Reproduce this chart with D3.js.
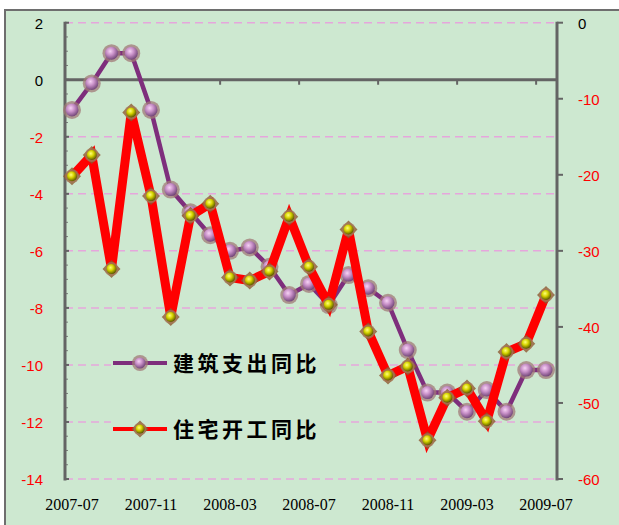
<!DOCTYPE html>
<html>
<head>
<meta charset="utf-8">
<script src="https://cdn.jsdelivr.net/npm/d3@7"></script>
<style>
  html, body { margin: 0; padding: 0; background: #fff; }
  svg { display: block; }
</style>
</head>
<body>
<div id="chart"></div>
<script>
// categories (monthly)
var months = ['2007-07','2007-08','2007-09','2007-10','2007-11','2007-12',
              '2008-01','2008-02','2008-03','2008-04','2008-05','2008-06',
              '2008-07','2008-08','2008-09','2008-10','2008-11','2008-12',
              '2009-01','2009-02','2009-03','2009-04','2009-05','2009-06','2009-07'];

// 建筑支出同比 (left axis)
var buildSpend = [-1.06, -0.13, 0.93, 0.93, -1.06, -3.85, -4.65, -5.45, -6.0, -5.88,
                  -6.56, -7.55, -7.16, -7.9, -6.85, -7.31, -7.82, -9.48, -10.97, -10.97,
                  -11.64, -10.88, -11.64, -10.18, -10.18];

// 住宅开工同比 (right axis)
var housingStarts = [-20.2, -17.4, -32.4, -11.8, -22.8, -38.7, -25.4, -23.8, -33.5, -33.9,
                     -32.7, -25.5, -32.1, -37.1, -27.2, -40.6, -46.4, -45.2, -54.9, -49.3,
                     -48.1, -52.4, -43.3, -42.2, -35.8];

var seriesNames = ['建筑支出同比', '住宅开工同比'];
var leftTicks = [2, 0, -2, -4, -6, -8, -10, -12, -14];
var rightTicks = [0, -10, -20, -30, -40, -50, -60];
var monthLabels = ['2007-07','2007-11','2008-03','2008-07','2008-11','2009-03','2009-07'];

(function(){
    var W = 619, H = 525,
        plot = {left: 65, right: 557, top: 22.7, bottom: 479},
        bg = '#cde8d0',
        axisColor = '#646464';

    var svg = d3.select('#chart').append('svg')
        .attr('width', W).attr('height', H)
        .attr('viewBox', '0 0 ' + W + ' ' + H);

    // scales
    var x = d3.scalePoint().domain(months).range([72, 546]),
        yL = d3.scaleLinear().domain([-14, 2]).range([plot.bottom, plot.top]),
        yR = d3.scaleLinear().domain([-60, 0]).range([plot.bottom, plot.top]);

    // gradients / filters
    var defs = svg.append('defs');
    var g1 = defs.append('radialGradient').attr('id', 'ballP')
        .attr('cx', '40%').attr('cy', '35%').attr('r', '65%');
    g1.append('stop').attr('offset', '0%').attr('stop-color', '#f6d2f4');
    g1.append('stop').attr('offset', '45%').attr('stop-color', '#c890c8');
    g1.append('stop').attr('offset', '100%').attr('stop-color', '#74487a');
    var g2 = defs.append('radialGradient').attr('id', 'ballY')
        .attr('cx', '40%').attr('cy', '35%').attr('r', '65%');
    g2.append('stop').attr('offset', '0%').attr('stop-color', '#ffff7a');
    g2.append('stop').attr('offset', '45%').attr('stop-color', '#d6d400');
    g2.append('stop').attr('offset', '100%').attr('stop-color', '#5e5a00');
    defs.append('filter').attr('id', 'soft')
        .append('feGaussianBlur').attr('stdDeviation', 0.7);

    // frame
    svg.append('rect')
        .attr('x', 5).attr('y', 10).attr('width', W + 10).attr('height', H + 10)
        .attr('fill', bg).attr('stroke', '#6e6e6e').attr('stroke-width', 2);

    // grid
    svg.append('g').selectAll('line.grid')
        .data(leftTicks).enter().append('line').classed('grid', true)
        .attr('x1', plot.left).attr('x2', plot.right)
        .attr('y1', function(d){ return yL(d); })
        .attr('y2', function(d){ return yL(d); })
        .attr('stroke', '#e6a6dc').attr('stroke-width', 1.5)
        .attr('stroke-dasharray', '8,5');

    // left axis
    var ax = svg.append('g').attr('stroke', axisColor);
    ax.append('line')
        .attr('x1', plot.left).attr('x2', plot.left)
        .attr('y1', plot.top - 1).attr('y2', plot.bottom + 1.5)
        .attr('stroke-width', 3);
    ax.selectAll('line.minor')
        .data(d3.range(-14, 2.01, 0.5)).enter().append('line').classed('minor', true)
        .attr('x1', plot.left).attr('x2', plot.left + 3)
        .attr('y1', function(d){ return yL(d); })
        .attr('y2', function(d){ return yL(d); })
        .attr('stroke-width', 0.8);
    ax.selectAll('line.major')
        .data(leftTicks).enter().append('line').classed('major', true)
        .attr('x1', plot.left).attr('x2', plot.left + 4)
        .attr('y1', function(d){ return yL(d); })
        .attr('y2', function(d){ return yL(d); })
        .attr('stroke-width', 2);

    // right axis
    ax.append('line')
        .attr('x1', plot.right).attr('x2', plot.right)
        .attr('y1', plot.top - 1).attr('y2', plot.bottom + 1.5)
        .attr('stroke-width', 3);
    ax.selectAll('line.rmajor')
        .data(rightTicks).enter().append('line').classed('rmajor', true)
        .attr('x1', plot.right).attr('x2', plot.right + 6)
        .attr('y1', function(d){ return yR(d); })
        .attr('y2', function(d){ return yR(d); })
        .attr('stroke-width', 2);

    // x axis at zero
    ax.append('line')
        .attr('x1', plot.left).attr('x2', plot.right)
        .attr('y1', yL(0)).attr('y2', yL(0))
        .attr('stroke-width', 3);
    var bounds = [];
    months.forEach(function(m, i){
        if(i % 4 === 3 && i < months.length - 1)
            bounds.push((x(m) + x(months[i + 1])) / 2);
    });
    ax.selectAll('line.xtick')
        .data(bounds).enter().append('line').classed('xtick', true)
        .attr('x1', function(d){ return d; }).attr('x2', function(d){ return d; })
        .attr('y1', yL(0)).attr('y2', yL(0) + 5)
        .attr('stroke-width', 2);

    // tick labels
    function tickColor(d){ return d >= 0 ? '#000' : '#ff0000'; }
    svg.append('g').selectAll('text')
        .data(leftTicks).enter().append('text')
        .attr('x', 43).attr('y', function(d){ return yL(d); })
        .attr('dy', '0.4em')
        .attr('text-anchor', 'end')
        .attr('font-family', '"Liberation Sans", Arial, sans-serif')
        .attr('font-size', 15)
        .attr('fill', tickColor)
        .text(function(d){ return d; });
    svg.append('g').selectAll('text')
        .data(rightTicks).enter().append('text')
        .attr('x', 578).attr('y', function(d){ return yR(d); })
        .attr('dy', '0.4em')
        .attr('font-family', '"Liberation Sans", Arial, sans-serif')
        .attr('font-size', 15)
        .attr('fill', tickColor)
        .text(function(d){ return d; });
    svg.append('g').selectAll('text')
        .data(monthLabels).enter().append('text')
        .attr('x', function(d){ return x(d); }).attr('y', 510)
        .attr('text-anchor', 'middle')
        .attr('font-family', '"Liberation Serif", "Times New Roman", serif')
        .attr('font-size', 16)
        .attr('fill', '#000')
        .text(function(d){ return d; });

    // markers
    function ballP(sel, r){
        sel.append('circle').attr('r', r + 2.5)
            .attr('fill', '#a27a78').attr('opacity', 0.75).attr('filter', 'url(#soft)');
        sel.append('circle').attr('r', r).attr('fill', 'url(#ballP)');
    }
    function ballY(sel, r){
        sel.append('path')
            .attr('d', 'M0,' + (-r - 4) + 'L' + (r + 4) + ',0L0,' + (r + 4) + 'L' + (-r - 4) + ',0Z')
            .attr('fill', '#8c5a30').attr('opacity', 0.8).attr('filter', 'url(#soft)');
        sel.append('circle').attr('r', r + 2)
            .attr('fill', '#a87a58').attr('opacity', 0.7).attr('filter', 'url(#soft)');
        sel.append('circle').attr('r', r).attr('fill', 'url(#ballY)');
    }

    // series 1 : purple
    var line1 = d3.line()
        .x(function(d, i){ return x(months[i]); })
        .y(function(d){ return yL(d); });
    svg.append('path').datum(buildSpend)
        .attr('d', line1).attr('fill', 'none')
        .attr('stroke', '#7e2e7c').attr('stroke-width', 4.5)
        .attr('stroke-linejoin', 'round');
    svg.append('g').selectAll('g')
        .data(buildSpend).enter().append('g')
        .attr('transform', function(d, i){ return 'translate(' + x(months[i]) + ',' + yL(d) + ')'; })
        .call(ballP, 6.5);

    // series 2 : red, secondary axis
    var line2 = d3.line()
        .x(function(d, i){ return x(months[i]); })
        .y(function(d){ return yR(d); });
    svg.append('path').datum(housingStarts)
        .attr('d', line2).attr('fill', 'none')
        .attr('stroke', '#ff0000').attr('stroke-width', 9)
        .attr('stroke-linejoin', 'miter');
    svg.append('g').selectAll('g')
        .data(housingStarts).enter().append('g')
        .attr('transform', function(d, i){ return 'translate(' + x(months[i]) + ',' + yR(d) + ')'; })
        .call(ballY, 5);

    // legend
    var lg = svg.append('g');
    lg.append('rect').attr('x', 111).attr('y', 343).attr('width', 228).attr('height', 104)
        .attr('fill', bg);
    var items = lg.selectAll('g.key')
        .data(seriesNames).enter().append('g').classed('key', true)
        .attr('transform', function(d, i){ return 'translate(0,' + (363 + i * 66) + ')'; });
    items.append('line')
        .attr('x1', 113).attr('x2', 167).attr('y1', 0).attr('y2', 0)
        .attr('stroke', function(d, i){ return i ? '#ff0000' : '#7e2e7c'; })
        .attr('stroke-width', 4);
    items.each(function(d, i){
        var m = d3.select(this).append('g').attr('transform', 'translate(140,0)');
        if(i) ballY(m, 4.5); else ballP(m, 5.5);
    });
    items.append('text')
        .attr('x', 173).attr('y', 8)
        .attr('font-family', '"Noto Sans CJK SC", sans-serif')
        .attr('font-weight', 700)
        .attr('font-size', 21)
        .attr('letter-spacing', 3.5)
        .attr('fill', '#000')
        .text(function(d){ return d; });
})();
</script>
</body>
</html>
